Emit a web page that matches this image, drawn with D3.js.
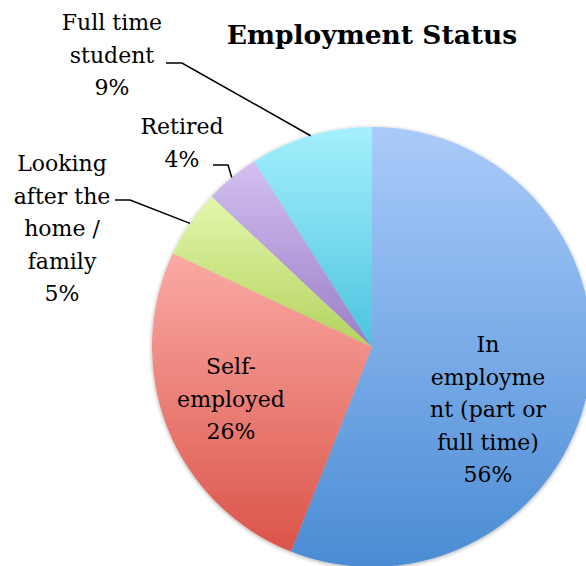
<!DOCTYPE html>
<html>
<head>
<meta charset="utf-8">
<script src="https://cdn.jsdelivr.net/npm/d3@7"></script>
<style>
  body { margin: 0; background: #fff; }
  svg { display: block; }
  text { font-family: "DejaVu Serif", "Liberation Serif", serif; fill: #000; }
</style>
</head>
<body>
<svg id="chart" width="586" height="566"></svg>
<script>
// data
var categories = ["In employment (part or full time)", "Self-employed", "Looking after the home / family", "Retired", "Full time student"];
var values = [56, 26, 5, 4, 9];
// label lines as they wrap in the original
var labelLines = [
    ["In", "employme", "nt (part or", "full time)"],
    ["Self-", "employed"],
    ["Looking", "after the", "home /", "family"],
    ["Retired"],
    ["Full time", "student"]
];
var colorTop = ["#aacbfa", "#fbaaa4", "#e3f7ad", "#d3c0f0", "#a5f0fd"];
var colorBottom = ["#4a8cd4", "#da5449", "#b3d25d", "#9a7dc8", "#4bc3df"];

// layout
var cx = 372, cy = 347, radius = 220;
var lineH = 32.5;
// label block centres (x, first baseline) and where leader lines start
var labelPos = [
    { x: 488, y: 352, inside: true },
    { x: 231, y: 374, inside: true },
    { x: 62, y: 171, inside: false, lx: 115, ly: 200, bend: 130 },
    { x: 182, y: 134, inside: false, lx: 213, ly: 165, bend: 228 },
    { x: 112, y: 30, inside: false, lx: 166, ly: 63, bend: 182 }
];

var svg = d3.select("#chart");
var defs = svg.append("defs");

var pie = d3.pie().sort(null).value(function (d) { return d; });
var arcs = pie(values);
var arc = d3.arc().innerRadius(0).outerRadius(radius);
var edgeArc = d3.arc().innerRadius(radius).outerRadius(radius);

// soft shadow like the office chart
var filt = defs.append("filter").attr("id", "shadow").attr("x", "-10%").attr("y", "-10%").attr("width", "120%").attr("height", "120%");
filt.append("feGaussianBlur").attr("in", "SourceAlpha").attr("stdDeviation", 2);
filt.append("feOffset").attr("dx", 0).attr("dy", 1).attr("result", "b");
filt.append("feComponentTransfer").append("feFuncA").attr("type", "linear").attr("slope", 0.35);
var merge = filt.append("feMerge");
merge.append("feMergeNode");
merge.append("feMergeNode").attr("in", "SourceGraphic");

// one vertical gradient per slice, over its own bounding box
arcs.forEach(function (a, i) {
    var g = defs.append("linearGradient")
        .attr("id", "grad" + i)
        .attr("x1", 0).attr("y1", 0).attr("x2", 0).attr("y2", 1);
    g.append("stop").attr("offset", "0%").attr("stop-color", colorTop[i]);
    g.append("stop").attr("offset", "100%").attr("stop-color", colorBottom[i]);
});

var pieG = svg.append("g")
    .attr("transform", "translate(" + cx + "," + cy + ")")
    .attr("filter", "url(#shadow)");

pieG.selectAll("path.slice")
    .data(arcs)
    .enter().append("path")
    .attr("class", "slice")
    .attr("d", arc)
    .attr("fill", function (d, i) { return "url(#grad" + i + ")"; });

// title
svg.append("text")
    .attr("x", 372)
    .attr("y", 44)
    .attr("text-anchor", "middle")
    .style("font-size", "26.5px")
    .style("font-weight", "bold")
    .text("Employment Status");

// labels
var labelG = svg.append("g");
arcs.forEach(function (a, i) {
    var p = labelPos[i];
    var lines = labelLines[i].concat([Math.round(values[i]) + "%"]);
    var t = labelG.append("text")
        .attr("text-anchor", "middle")
        .style("font-size", "22px");
    lines.forEach(function (ln, k) {
        t.append("tspan").attr("x", p.x).attr("y", p.y + k * lineH).text(ln);
    });
    if (!p.inside) {
        var c = edgeArc.centroid(a);
        var end = [cx + c[0], cy + c[1]];
        labelG.append("path")
            .attr("d", d3.line()([[p.lx, p.ly], [p.bend, p.ly], end]))
            .attr("fill", "none")
            .attr("stroke", "#000")
            .attr("stroke-width", 1.5);
    }
});
</script>
</body>
</html>
